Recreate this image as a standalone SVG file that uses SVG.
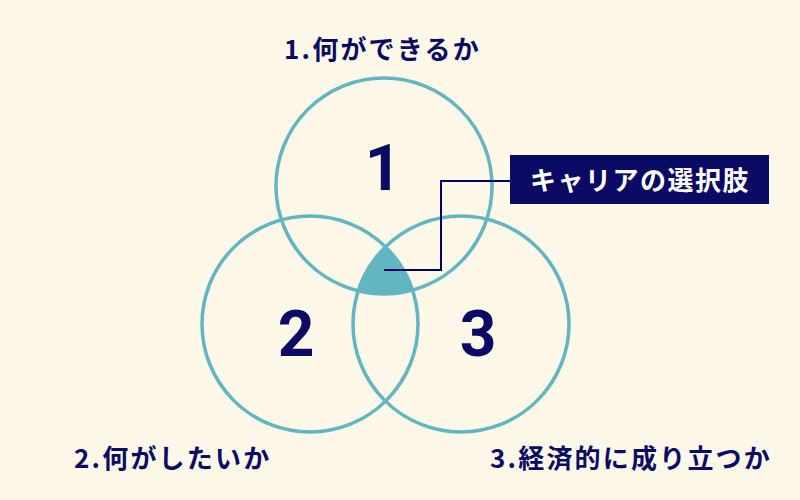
<svg xmlns="http://www.w3.org/2000/svg" width="800" height="500" viewBox="0 0 800 500">
  <style>
    .ring { fill: none; stroke: #62b6c1; stroke-width: 3.5; }
    .num { font-family: Roboto, "Noto Sans", "Liberation Sans", sans-serif; font-weight: bold; font-size: 64px; fill: #0b0b66; text-anchor: middle; }
    .lbl { font-family: "Noto Sans CJK JP", "Noto Sans", sans-serif; font-weight: bold; font-size: 26px; fill: #0b0b66; letter-spacing: 2.2px; }
    .tag { font-family: "Noto Sans CJK JP", "Noto Sans", sans-serif; font-weight: bold; font-size: 26px; fill: #ffffff; letter-spacing: 1.5px; }
    .conn { fill: none; stroke: #000066; stroke-width: 2; }
  </style>
  <defs>
    <clipPath id="c2"><circle cx="310" cy="324" r="108"/></clipPath>
    <clipPath id="c3"><circle cx="461" cy="324" r="108"/></clipPath>
  </defs>
  <rect x="0" y="0" width="800" height="500" fill="#fdf8e8"/>

  <g id="overlap">
    <g clip-path="url(#c3)">
      <circle cx="384" cy="186" r="108" fill="#62b6c1" clip-path="url(#c2)"/>
    </g>
  </g>

  <g id="circle1">
    <circle class="ring" cx="384" cy="186" r="108"/>
    <text class="num" x="383" y="190">1</text>
  </g>
  <g id="circle2">
    <circle class="ring" cx="310" cy="324" r="108"/>
    <text class="num" x="296" y="356">2</text>
  </g>
  <g id="circle3">
    <circle class="ring" cx="461" cy="324" r="108"/>
    <text class="num" x="478" y="356">3</text>
  </g>

  <g id="label1"><text class="lbl" x="284" y="59">1.何ができるか</text></g>
  <g id="label2"><text class="lbl" x="74" y="468">2.何がしたいか</text></g>
  <g id="label3"><text class="lbl" x="490" y="468">3.経済的に成り立つか</text></g>

  <g id="connectors">
    <polyline class="conn" points="384,270 441,270 441,181 510,181"/>
  </g>

  <g id="career">
    <rect x="510" y="155" width="259" height="49" fill="#0a0a64"/>
    <text class="tag" x="530" y="190">キャリアの選択肢</text>
  </g>
</svg>
